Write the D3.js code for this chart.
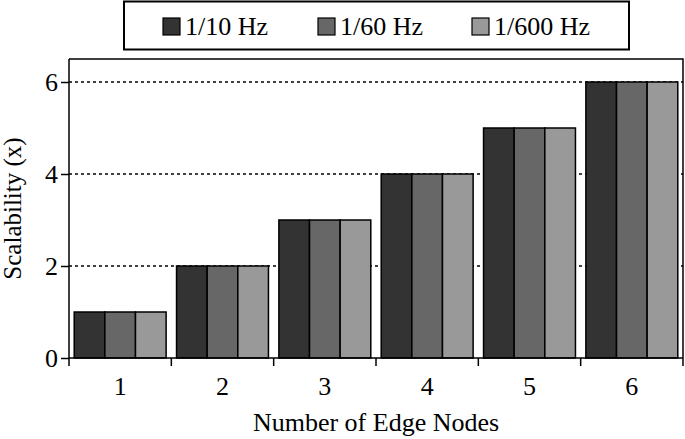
<!DOCTYPE html>
<html>
<head>
<meta charset="utf-8">
<script src="https://cdn.jsdelivr.net/npm/d3@7"></script>
<style>
  body { margin: 0; background: #fff; }
  svg { display: block; }
  .axis text { font-family: "Liberation Serif", "Times New Roman", serif; font-size: 26px; fill: #000; }
  .axis path, .axis line { stroke: #000; stroke-width: 1.5px; }
</style>
</head>
<body>
<div id="chart"></div>
<script>
// chart data
var nodes = ["1", "2", "3", "4", "5", "6"];
var series_names = ["1/10 Hz", "1/60 Hz", "1/600 Hz"];
var series_colors = ["#333333", "#676767", "#999999"];
var rate_10 = [1, 2, 3, 4, 5, 6];
var rate_60 = [1, 2, 3, 4, 5, 6];
var rate_600 = [1, 2, 3, 4, 5, 6];
var y_ticks = [0, 2, 4, 6];
var grid_ticks = [2, 4, 6];

var series_values = [rate_10, rate_60, rate_600];

var W = 685, H = 439;
var margin = {top: 59, right: 2, bottom: 81, left: 69},
    width = W - margin.left - margin.right,
    height = H - margin.top - margin.bottom;

var font = '"Liberation Serif", "Times New Roman", serif';

var svg = d3.select('#chart').append('svg')
  .attr('width', W)
  .attr('height', H);

var g = svg.append('g')
  .attr('transform', 'translate(' + margin.left + ',' + margin.top + ')');

var x = d3.scaleBand().domain(nodes).range([0, width]).paddingInner(0).paddingOuter(0);
var x1 = d3.scaleBand().domain(d3.range(series_names.length))
  .range([0, x.bandwidth()]).paddingOuter(0.17).paddingInner(0);
var y = d3.scaleLinear().domain([0, 6.5]).range([height, 0]);

// dotted grid lines
g.selectAll('.grid')
  .data(grid_ticks)
  .enter()
  .append('line')
  .attr('class', 'grid')
  .attr('x1', 0)
  .attr('x2', width)
  .attr('y1', function(d){ return y(d); })
  .attr('y2', function(d){ return y(d); })
  .style('stroke', '#000')
  .style('stroke-width', 1.4)
  .style('stroke-dasharray', '3,3');

// bars
var groups = g.selectAll('.group')
  .data(nodes)
  .enter()
  .append('g')
  .attr('class', 'group')
  .attr('transform', function(d){ return 'translate(' + x(d) + ',0)'; });

groups.selectAll('rect')
  .data(function(d, i){
    return series_values.map(function(s, j){ return {s: j, v: s[i]}; });
  })
  .enter()
  .append('rect')
  .attr('x', function(d){ return x1(d.s); })
  .attr('y', function(d){ return y(d.v); })
  .attr('width', x1.bandwidth())
  .attr('height', function(d){ return height - y(d.v); })
  .style('fill', function(d){ return series_colors[d.s]; })
  .style('stroke', '#000')
  .style('stroke-width', 1.5);

// frame top and right
g.append('path')
  .attr('d', 'M0,0H' + width + 'V' + height)
  .style('fill', 'none')
  .style('stroke', '#000')
  .style('stroke-width', 1.5);

// x axis: ticks at band boundaries
var xAxis = g.append('g')
  .attr('class', 'axis')
  .attr('transform', 'translate(0,' + height + ')');
xAxis.append('line')
  .attr('x1', 0).attr('x2', width);
xAxis.selectAll('.tick')
  .data(d3.range(nodes.length + 1))
  .enter()
  .append('line')
  .attr('x1', function(i){ return i * x.step(); })
  .attr('x2', function(i){ return i * x.step(); })
  .attr('y1', 0)
  .attr('y2', 8);
xAxis.selectAll('text')
  .data(nodes)
  .enter()
  .append('text')
  .attr('x', function(d){ return x(d) + x.bandwidth() / 2; })
  .attr('y', 37)
  .attr('text-anchor', 'middle')
  .text(function(d){ return d; });

// y axis
g.append('g')
  .attr('class', 'axis')
  .call(d3.axisLeft(y).tickValues(y_ticks).tickFormat(d3.format('d'))
    .tickSize(8).tickSizeOuter(0).tickPadding(3))
  .call(function(a){ a.select('.domain').attr('d', 'M0,0V' + height); });

// axis titles
svg.append('text')
  .attr('x', margin.left + width / 2)
  .attr('y', 431)
  .attr('text-anchor', 'middle')
  .style('font-family', font)
  .style('font-size', '26px')
  .text('Number of Edge Nodes');

svg.append('text')
  .attr('transform', 'translate(21,' + (margin.top + height / 2) + ') rotate(-90)')
  .attr('text-anchor', 'middle')
  .style('font-family', font)
  .style('font-size', '25px')
  .text('Scalability (x)');

// legend
var legend = svg.append('g');
legend.append('rect')
  .attr('x', 124)
  .attr('y', 1.5)
  .attr('width', 505)
  .attr('height', 48)
  .style('fill', '#fff')
  .style('stroke', '#000')
  .style('stroke-width', 2);

var legend_x = [163, 318, 472];
var items = legend.selectAll('.item')
  .data(series_names)
  .enter()
  .append('g')
  .attr('class', 'item')
  .attr('transform', function(d, i){ return 'translate(' + legend_x[i] + ',0)'; });
items.append('rect')
  .attr('x', 0)
  .attr('y', 18)
  .attr('width', 17)
  .attr('height', 17)
  .style('fill', function(d, i){ return series_colors[i]; })
  .style('stroke', '#000')
  .style('stroke-width', 1.2);
items.append('text')
  .attr('x', 22)
  .attr('y', 35)
  .style('font-family', font)
  .style('font-size', '26px')
  .text(function(d){ return d; });
</script>
</body>
</html>
